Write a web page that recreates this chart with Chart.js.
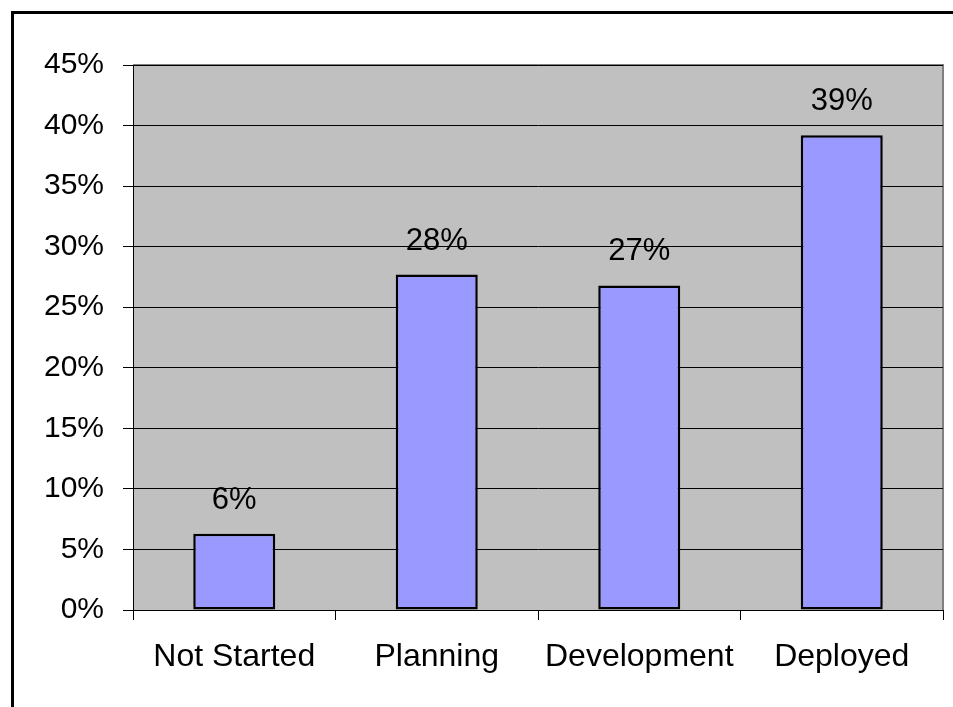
<!DOCTYPE html>
<html>
<head>
<meta charset="utf-8">
<title>Project Status</title>
<script src="https://cdn.jsdelivr.net/npm/chart.js@4.4.1/dist/chart.umd.min.js"></script>
<style>
  html, body { margin: 0; padding: 0; background: #ffffff; overflow: hidden; }
  #wrap { position: relative; width: 953px; height: 707px; }
</style>
</head>
<body>
<div id="wrap"><canvas id="statusChart" width="953" height="707"></canvas></div>
<script>
// Share of projects by stage (percent)
const stages = ["Not Started", "Planning", "Development", "Deployed"];
const shares = [6.3, 27.7, 26.8, 39.2];
const yMax = 45;
const yStep = 5;

const font = "'Liberation Sans', Arial, sans-serif";

// White page, outer frame and grey plot area
const backdrop = {
  id: "backdrop",
  beforeDraw(chart) {
    const { ctx, chartArea: a } = chart;
    ctx.save();
    ctx.fillStyle = "#ffffff";
    ctx.fillRect(0, 0, chart.width, chart.height);
    ctx.strokeStyle = "#000000";
    ctx.lineWidth = 3;
    ctx.strokeRect(12.5, 12.5, 1200, 1200);
    ctx.fillStyle = "#c0c0c0";
    ctx.fillRect(a.left, a.top, a.right - a.left, a.bottom - a.top);
    ctx.strokeStyle = "#808080";
    ctx.lineWidth = 2;
    ctx.beginPath();
    ctx.moveTo(a.left, a.top);
    ctx.lineTo(a.right, a.top);
    ctx.lineTo(a.right, a.bottom);
    ctx.stroke();
    ctx.restore();
  },
};

// Percent labels above each bar
const valueLabels = {
  id: "valueLabels",
  afterDatasetsDraw(chart) {
    const { ctx } = chart;
    const meta = chart.getDatasetMeta(0);
    ctx.save();
    ctx.fillStyle = "#000000";
    ctx.font = "31px " + font;
    ctx.textAlign = "center";
    ctx.textBaseline = "alphabetic";
    meta.data.forEach((bar, i) => {
      ctx.fillText(Math.round(shares[i]) + "%", bar.x, bar.y - 25);
    });
    ctx.restore();
  },
};

new Chart(document.getElementById("statusChart"), {
  type: "bar",
  data: {
    labels: stages,
    datasets: [
      {
        data: shares,
        backgroundColor: "#9999ff",
        borderColor: "#000000",
        borderWidth: 2.5,
        borderSkipped: false,
        barPercentage: 0.405,
        categoryPercentage: 1,
      },
    ],
  },
  options: {
    responsive: false,
    animation: false,
    layout: { padding: { left: 0, top: 65, right: 10, bottom: 0 } },
    plugins: {
      legend: { display: false },
      tooltip: { enabled: false },
    },
    scales: {
      x: {
        offset: true,
        grid: {
          offset: true,
          drawOnChartArea: false,
          tickLength: 10,
          color: "#000000",
        },
        border: { color: "#000000", width: 1 },
        ticks: {
          padding: 18,
          color: "#000000",
          font: { size: 32, family: font },
        },
        afterFit(scale) {
          scale.height = 97;
        },
      },
      y: {
        min: 0,
        max: yMax,
        grid: {
          color: "#000000",
          tickLength: 10,
        },
        border: { color: "#000000", width: 1 },
        ticks: {
          stepSize: yStep,
          padding: 19,
          color: "#000000",
          font: { size: 30, family: font },
          callback: (v) => v + "%",
        },
        afterFit(scale) {
          scale.width = 133;
        },
      },
    },
  },
  plugins: [backdrop, valueLabels],
});
</script>
</body>
</html>
